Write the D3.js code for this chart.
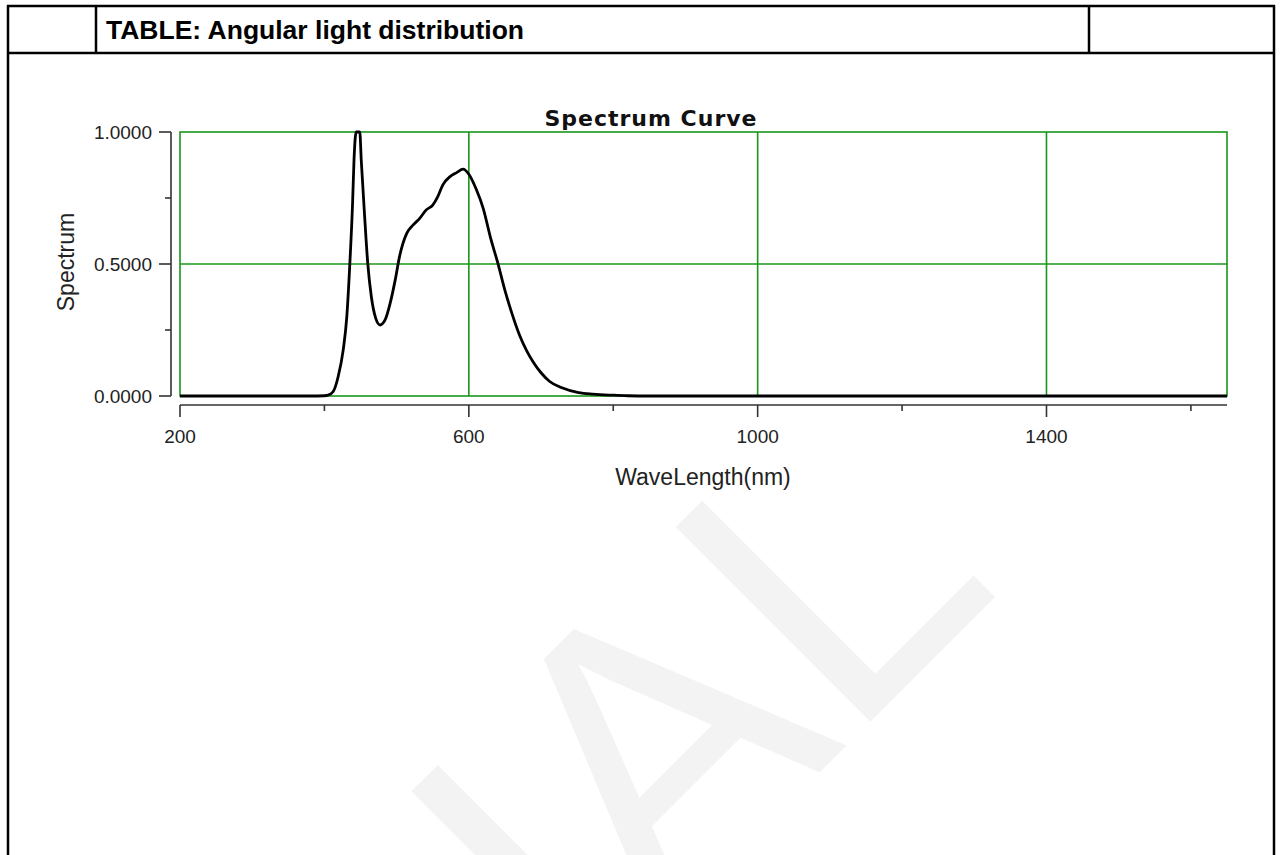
<!DOCTYPE html>
<html><head><meta charset="utf-8">
<script src="https://cdn.jsdelivr.net/npm/d3@7"></script>
<style>html,body{margin:0;padding:0;background:#fff;}svg{display:block;}</style>
</head><body>
<svg id="c" width="1282" height="855"></svg>
<script>
// ---- data ----
const wavelengths = [200,380,400,405,412,419,426,431,435,439,441,444,449,451,456,460,465,471,477,484,491,498,504,514,523,532,541,550,557,564,574,583,592,600,610,620,630,640,650,660,670,680,690,700,712,728,752,772,800,820,850,1650];
const spectrum    = [0,0,0.001,0.003,0.016,0.073,0.174,0.30,0.49,0.73,0.894,1.0,1.0,0.894,0.667,0.503,0.376,0.295,0.269,0.288,0.351,0.439,0.528,0.616,0.648,0.673,0.705,0.723,0.755,0.80,0.831,0.846,0.859,0.84,0.785,0.71,0.60,0.505,0.40,0.31,0.232,0.172,0.125,0.088,0.055,0.032,0.013,0.007,0.003,0.001,0,0];
const xMajorTicks = [200,600,1000,1400];
const xMinorTicks = [400,800,1200,1600];
const yMajorTicks = [0,0.5,1];
const yMinorTicks = [0.25,0.75];
const headerTitle = "TABLE: Angular light distribution";
const chartTitle = "Spectrum Curve";
const xLabel = "WaveLength(nm)";
const yLabel = "Spectrum";
const watermark = "TRIAL";

const svg = d3.select("#c");

// watermark
svg.append("text").text(watermark)
  .attr("transform","translate(868,724) rotate(-45)")
  .attr("x",193).attr("y",0).attr("text-anchor","end")
  .attr("font-family","Liberation Sans, Arial, sans-serif").attr("font-size",400)
  .attr("fill","#f3f3f3");

// table borders
const bw = 2.5;
const tb = svg.append("g").attr("stroke","#000").attr("stroke-width",bw).attr("fill","none");
tb.append("line").attr("x1",7).attr("x2",1275).attr("y1",6).attr("y2",6);
tb.append("line").attr("x1",7).attr("x2",1275).attr("y1",53).attr("y2",53);
tb.append("line").attr("x1",8).attr("x2",8).attr("y1",5).attr("y2",860);
tb.append("line").attr("x1",1274).attr("x2",1274).attr("y1",5).attr("y2",860);
tb.append("line").attr("x1",96).attr("x2",96).attr("y1",5).attr("y2",53);
tb.append("line").attr("x1",1089).attr("x2",1089).attr("y1",5).attr("y2",53);

svg.append("text").text(headerTitle).attr("x",106).attr("y",39)
  .attr("font-family","Liberation Sans, Arial, sans-serif").attr("font-weight","bold")
  .attr("font-size",26.5).attr("fill","#000");

// chart
const L=180, R=1227, T=132, B=396;
const x = d3.scaleLinear().domain([200,1650]).range([L,R]);
const y = d3.scaleLinear().domain([0,1]).range([B,T]);
const tf = "Liberation Sans, Arial, sans-serif";
const tcol = "#222";

svg.append("text").text(chartTitle).attr("x",651).attr("y",126).attr("text-anchor","middle")
  .attr("font-family","DejaVu Sans, Verdana, sans-serif").attr("font-weight","bold").attr("font-size",22)
  .attr("letter-spacing",1).attr("fill","#111");

// grid (green)
const g = svg.append("g").attr("stroke","#1a961a").attr("stroke-width",1.6).attr("fill","none");
g.append("rect").attr("x",L).attr("y",T).attr("width",R-L).attr("height",B-T);
g.selectAll("line.v").data(xMajorTicks.filter(d=>d>200)).join("line")
  .attr("x1",d=>x(d)).attr("x2",d=>x(d)).attr("y1",T).attr("y2",B);
g.append("line").attr("x1",L).attr("x2",R).attr("y1",y(0.5)).attr("y2",y(0.5));

// curve
const pts = wavelengths.map((w,i)=>[w,spectrum[i]]);
svg.append("path").datum(pts)
  .attr("d", d3.line().x(d=>x(d[0])).y(d=>y(d[1])).curve(d3.curveMonotoneX))
  .attr("fill","none").attr("stroke","#000").attr("stroke-width",2.8).attr("stroke-linejoin","round");

// x axis
const axX = 405;
const ax = svg.append("g").attr("stroke","#333").attr("stroke-width",1.6);
ax.append("line").attr("x1",L).attr("x2",R).attr("y1",axX).attr("y2",axX);
ax.selectAll("line.xM").data(xMajorTicks).join("line").attr("x1",d=>x(d)).attr("x2",d=>x(d)).attr("y1",axX).attr("y2",axX+12);
ax.selectAll("line.xm").data(xMinorTicks).join("line").attr("x1",d=>x(d)).attr("x2",d=>x(d)).attr("y1",axX).attr("y2",axX+6);
svg.selectAll("text.xt").data(xMajorTicks).join("text").attr("class","xt")
  .attr("x",d=>x(d)).attr("y",443).attr("text-anchor","middle")
  .attr("font-family",tf).attr("font-size",19).attr("fill",tcol).text(d=>d);
svg.append("text").text(xLabel).attr("x",703).attr("y",485).attr("text-anchor","middle")
  .attr("font-family",tf).attr("font-size",23).attr("fill",tcol);

// y axis
const axY = 171;
ax.append("line").attr("x1",axY).attr("x2",axY).attr("y1",T).attr("y2",B);
ax.selectAll("line.yM").data(yMajorTicks).join("line").attr("x1",axY-12).attr("x2",axY).attr("y1",d=>y(d)).attr("y2",d=>y(d));
ax.selectAll("line.ym").data(yMinorTicks).join("line").attr("x1",axY-6).attr("x2",axY).attr("y1",d=>y(d)).attr("y2",d=>y(d));
svg.selectAll("text.yt").data(yMajorTicks).join("text").attr("class","yt")
  .attr("x",152).attr("y",d=>y(d)+7).attr("text-anchor","end")
  .attr("font-family",tf).attr("font-size",19).attr("fill",tcol).text(d=>d.toFixed(4));
svg.append("text").text(yLabel).attr("transform","translate(74,262) rotate(-90)").attr("text-anchor","middle")
  .attr("font-family",tf).attr("font-size",23).attr("fill",tcol);
</script>
</body></html>
